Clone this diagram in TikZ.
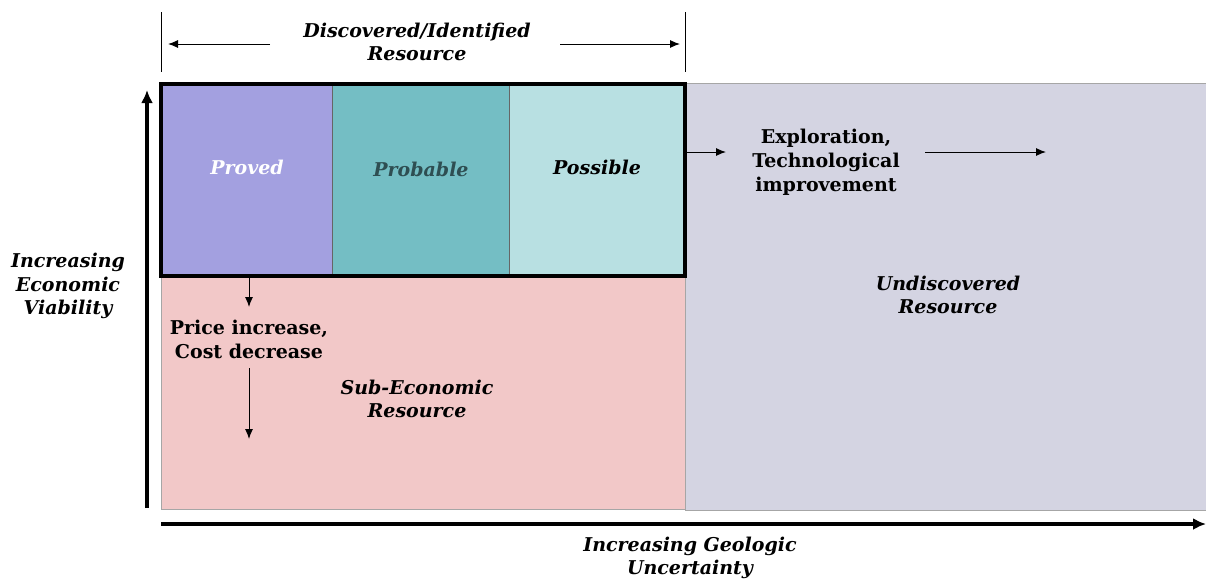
\documentclass[tikz,border=0pt]{standalone}
\usepackage{fontspec}
\setmainfont{DejaVu Serif}
\usetikzlibrary{arrows.meta}
\definecolor{provedC}{HTML}{A3A0E0}
\definecolor{probC}{HTML}{74BEC4}
\definecolor{possC}{HTML}{B8E0E2}
\definecolor{undiscC}{HTML}{D4D4E2}
\definecolor{subC}{HTML}{F2C8C8}
\definecolor{probText}{HTML}{2E4E52}
\tikzset{
  lbl/.style={font=\fontsize{19}{23.5}\selectfont\bfseries\itshape, align=center, inner sep=0pt},
  lblr/.style={font=\fontsize{19}{24}\selectfont\bfseries, align=center, inner sep=0pt},
  thin arrow/.style={-{Latex[length=10pt,width=8pt]}, line width=1pt},
  axis/.style={-{Latex[length=13pt,width=12pt]}, line width=3.5pt},
}
\begin{document}
\begin{tikzpicture}[x=1pt,y=-1pt]
\useasboundingbox (0,0) rectangle (1206,582);
% regions
\fill[undiscC, draw=gray!70, line width=1pt] (685,83) rectangle (1210,510);
\fill[subC, draw=gray!70, line width=0.8pt] (161,276) rectangle (685,509);
\fill[provedC] (161,84) rectangle (332,276);
\fill[probC] (332,84) rectangle (509,276);
\fill[possC] (509,84) rectangle (685,276);
\draw[gray!80!black, line width=0.6pt] (332,84) -- (332,276) (509,84) -- (509,276);
\draw[line width=4pt] (161,84) rectangle (685,276);
% ticks
\draw[line width=0.8pt] (161,12) -- (161,72);
\draw[line width=0.8pt] (685,12) -- (685,72);
% top label
\node[lbl] (disc) at (417,42) {Discovered/Identified\\Resource};
\coordinate (dl) at (168,44);
\coordinate (dr) at (680,44);
\draw[thin arrow] (270,44) -- (dl);
\draw[thin arrow] (560,44) -- (dr);
% cell labels
\node[lbl, text=white] (proved) at (247,167) {Proved};
\node[lbl, text=probText] (prob) at (421,169) {Probable};
\node[lbl] (poss) at (597,167) {Possible};
% axes
\coordinate (o1) at (147,508);
\coordinate (yt) at (147,90);
\draw[axis] (o1) -- (yt);
\coordinate (o2) at (161,524);
\coordinate (xt) at (1206,524);
\draw[axis] (o2) -- (xt);
\node[lbl] (yl) at (68,286) {Increasing\\Economic\\Viability};
\node[lbl] (xl) at (690,558) {Increasing Geologic\\Uncertainty};
% price
\node[lblr] (price) at (249,339) {Price increase,\\Cost decrease};
\coordinate (p0) at (249,278);
\coordinate (p1) at (249,307);
\draw[thin arrow] (p0) -- (p1);
\coordinate (p2) at (249,368);
\coordinate (p3) at (249,439);
\draw[thin arrow] (p2) -- (p3);
\node[lbl] (sub) at (417,399) {Sub-Economic\\Resource};
% exploration
\node[lblr] (expl) at (826,162) {Exploration,\\Technological\\improvement};
\coordinate (e0) at (685,152);
\coordinate (e1) at (726,152);
\draw[thin arrow] (e0) -- (e1);
\coordinate (e2) at (925,152);
\coordinate (e3) at (1046,152);
\draw[thin arrow] (e2) -- (e3);
\node[lbl] (und) at (948,295) {Undiscovered\\Resource};
\end{tikzpicture}
\end{document}
